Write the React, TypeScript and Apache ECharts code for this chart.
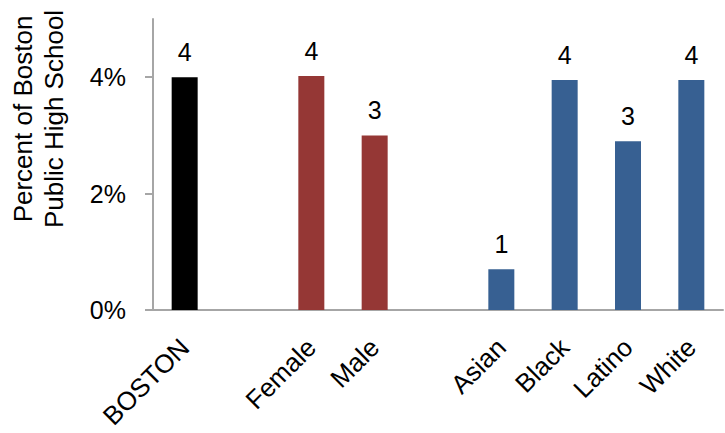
import React, { useEffect, useRef } from "react";
import * as echarts from "echarts";

const categories = ["BOSTON", "", "Female", "Male", "", "Asian", "Black", "Latino", "White"];
const values: (number | string)[] = [4.0, "-", 4.02, 3.0, "-", 0.7, 3.95, 2.9, 3.95];
const barColors = ["#000000", "#953735", "#953735", "#953735", "#376092", "#376092", "#376092", "#376092", "#376092"];
const yTicks = [0, 2, 4];
const yTitle = "Percent of Boston\nPublic High School";

export default function App() {
  const ref = useRef<HTMLDivElement>(null);
  useEffect(() => {
    if (!ref.current) return;
    const chart = echarts.init(ref.current, null, { renderer: "svg" });
    const font = "Liberation Sans, Arial, Helvetica, sans-serif";
    chart.setOption({
      animation: false,
      textStyle: { fontFamily: font },
      grid: { left: 153, right: 2, top: 19, bottom: 123, containLabel: false },
      graphic: [
        {
          type: "text",
          x: 38,
          y: 119,
          rotation: Math.PI / 2,
          style: {
            text: yTitle,
            font: `26px ${font}`,
            fill: "#000",
            textAlign: "center",
            textVerticalAlign: "middle",
            lineHeight: 31,
          },
        },
      ],
      xAxis: {
        type: "category",
        data: categories,
        axisLine: { show: true, lineStyle: { color: "#a6a6a6", width: 2 } },
        axisTick: { show: false },
        axisLabel: {
          interval: 0,
          rotate: 45,
          fontSize: 26,
          color: "#000",
          margin: 33,
          fontFamily: font,
        },
      },
      yAxis: {
        type: "value",
        min: 0,
        max: 5,
        interval: 1,
        splitLine: { show: false },
        axisLine: { show: true, lineStyle: { color: "#a6a6a6", width: 2 } },
        axisTick: { show: true, length: 8, customValues: yTicks, lineStyle: { color: "#a6a6a6", width: 2 } },
        axisLabel: {
          customValues: yTicks,
          formatter: (v: number) => `${v}%`,
          fontSize: 25,
          color: "#000",
          margin: 27,
          fontFamily: font,
        },
      },
      series: [
        {
          type: "bar",
          barWidth: 26,
          data: values.map((v, i) => ({ value: v, itemStyle: { color: barColors[i] } })),
          label: {
            show: true,
            position: "top",
            distance: 13,
            fontSize: 25,
            color: "#000",
            fontFamily: font,
            formatter: (p: any) => `${Math.round(p.value)}`,
          },
        },
      ],
    });
    return () => chart.dispose();
  }, []);
  return <div ref={ref} style={{ width: 725, height: 433, position: "absolute", left: 0, top: 0 }} />;
}
